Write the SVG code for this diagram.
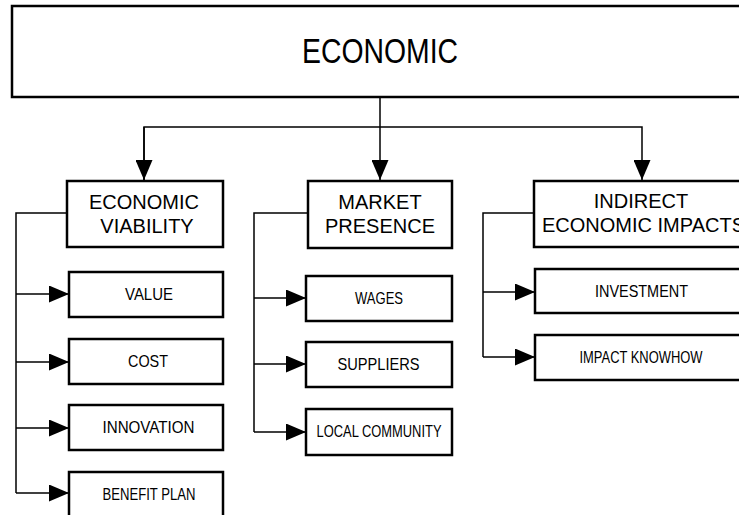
<svg xmlns="http://www.w3.org/2000/svg" width="739" height="515" viewBox="0 0 739 515">
<style>
.box{fill:#fff;stroke:#000;stroke-width:2.5}
.ln{fill:none;stroke:#000;stroke-width:1.5}
text{font-family:"Liberation Sans",Arial,sans-serif;fill:#000;text-anchor:middle}
.big{font-size:35px}
.mid{font-size:20px}
.sm{font-size:16.5px}
</style>
<defs>
<marker id="ah" viewBox="0 0 20 17" refX="20" refY="8.5" markerWidth="20" markerHeight="17" markerUnits="userSpaceOnUse" orient="auto">
<path d="M0,0 L20,8.5 L0,17 Z" fill="#000"/>
</marker>
</defs>
<rect width="739" height="515" fill="#fff"/>
<g id="connectors">
<line class="ln" x1="380" y1="97" x2="380" y2="180" marker-end="url(#ah)"/>
<polyline class="ln" points="144,180 144,127 642,127 642,180" marker-end="url(#ah)"/>
<line class="ln" x1="144" y1="127" x2="144" y2="180" marker-end="url(#ah)"/>
<polyline class="ln" points="67,213 16,213 16,493"/>
<line class="ln" x1="16" y1="294" x2="69" y2="294" marker-end="url(#ah)"/>
<line class="ln" x1="16" y1="362" x2="69" y2="362" marker-end="url(#ah)"/>
<line class="ln" x1="16" y1="428" x2="69" y2="428" marker-end="url(#ah)"/>
<line class="ln" x1="16" y1="493" x2="69" y2="493" marker-end="url(#ah)"/>
<polyline class="ln" points="308,213 254,213 254,432"/>
<line class="ln" x1="254" y1="298" x2="306" y2="298" marker-end="url(#ah)"/>
<line class="ln" x1="254" y1="364" x2="306" y2="364" marker-end="url(#ah)"/>
<line class="ln" x1="254" y1="432" x2="306" y2="432" marker-end="url(#ah)"/>
<polyline class="ln" points="534,213 483,213 483,357"/>
<line class="ln" x1="483" y1="292" x2="535" y2="292" marker-end="url(#ah)"/>
<line class="ln" x1="483" y1="357" x2="535" y2="357" marker-end="url(#ah)"/>
</g>
<g id="economic">
<rect class="box" x="12" y="6" width="740" height="91"/>
<text class="big" x="380" y="63" textLength="156" lengthAdjust="spacingAndGlyphs">ECONOMIC</text>
</g>
<g id="economic-viability">
<rect class="box" x="67" y="181" width="156" height="66"/>
<text class="mid" x="144" y="209">ECONOMIC</text>
<text class="mid" x="147" y="233">VIABILITY</text>
</g>
<g id="market-presence">
<rect class="box" x="308" y="181" width="144" height="67"/>
<text class="mid" x="380" y="209">MARKET</text>
<text class="mid" x="380" y="233">PRESENCE</text>
</g>
<g id="indirect-economic-impacts">
<rect class="box" x="534" y="181" width="220" height="66"/>
<text class="mid" x="641" y="208">INDIRECT</text>
<text class="mid" x="542" y="232" style="text-anchor:start">ECONOMIC IMPACTS</text>
</g>
<g id="value">
<rect class="box" x="69" y="272" width="154" height="45"/>
<text class="sm" x="149" y="300" textLength="48" lengthAdjust="spacingAndGlyphs">VALUE</text>
</g>
<g id="cost">
<rect class="box" x="69" y="339" width="154" height="45"/>
<text class="sm" x="148" y="367" textLength="40" lengthAdjust="spacingAndGlyphs">COST</text>
</g>
<g id="innovation">
<rect class="box" x="69" y="405" width="154" height="45"/>
<text class="sm" x="148.5" y="433" textLength="92" lengthAdjust="spacingAndGlyphs">INNOVATION</text>
</g>
<g id="benefit-plan">
<rect class="box" x="69" y="472" width="154" height="50"/>
<text class="sm" x="149" y="500" textLength="93" lengthAdjust="spacingAndGlyphs">BENEFIT PLAN</text>
</g>
<g id="wages">
<rect class="box" x="306" y="276" width="146" height="45"/>
<text class="sm" x="379" y="304" textLength="48" lengthAdjust="spacingAndGlyphs">WAGES</text>
</g>
<g id="suppliers">
<rect class="box" x="306" y="342" width="146" height="45"/>
<text class="sm" x="378.5" y="370" textLength="82" lengthAdjust="spacingAndGlyphs">SUPPLIERS</text>
</g>
<g id="local-community">
<rect class="box" x="306" y="409" width="146" height="46"/>
<text class="sm" x="379" y="437" textLength="125" lengthAdjust="spacingAndGlyphs">LOCAL COMMUNITY</text>
</g>
<g id="investment">
<rect class="box" x="535" y="269" width="220" height="44"/>
<text class="sm" x="641.5" y="297" textLength="93" lengthAdjust="spacingAndGlyphs">INVESTMENT</text>
</g>
<g id="impact-knowhow">
<rect class="box" x="535" y="335" width="220" height="45"/>
<text class="sm" x="641" y="363" textLength="123" lengthAdjust="spacingAndGlyphs">IMPACT KNOWHOW</text>
</g>
</svg>
